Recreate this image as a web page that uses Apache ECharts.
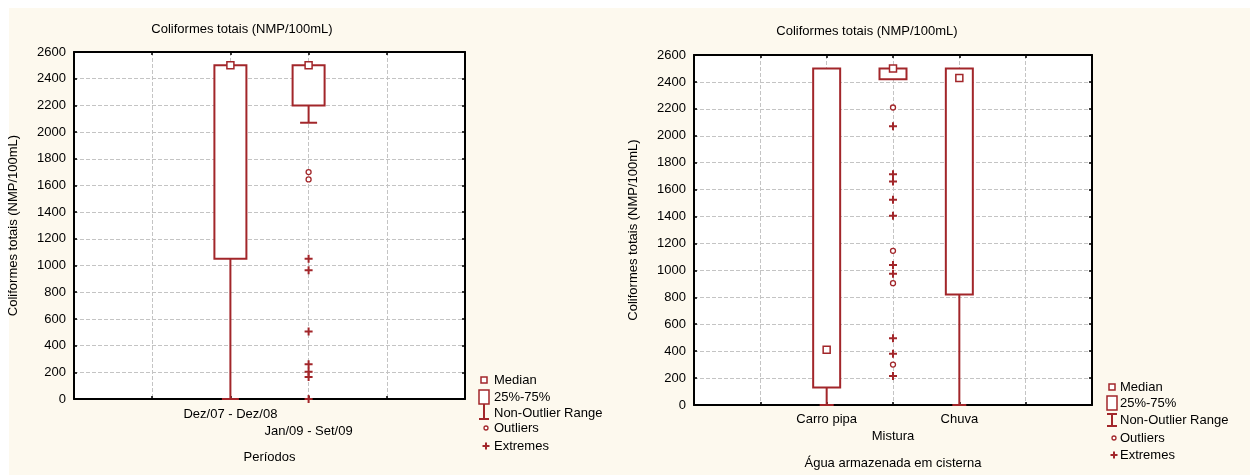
<!DOCTYPE html>
<html>
<head>
<meta charset="utf-8">
<script src="https://cdn.jsdelivr.net/npm/echarts@6/dist/echarts.min.js"></script>
<style>
  html, body { margin: 0; padding: 0; background: #ffffff; }
  #chart { width: 1250px; height: 475px; }
</style>
</head>
<body>
<div id="chart"></div>
<script>
// ---- Coliformes totais por período ----
const periodLabels = ['Dez/07 - Dez/08', 'Jan/09 - Set/09'];
const periodSlots = [2, 3];
const periodLow = [0, 2070];
const periodQ1 = [1050, 2200];
const periodMedian = [2500, 2500];
const periodQ3 = [2500, 2500];
const periodHigh = [2500, 2500];
const periodOutliers = [[3, 1700], [3, 1645]];
const periodExtremes = [[3, 1050], [3, 965], [3, 505], [3, 260], [3, 205], [3, 165], [3, 0]];

// ---- Coliformes totais por origem da água armazenada ----
const sourceLabels = ['Carro pipa', 'Mistura', 'Chuva'];
const sourceSlots = [2, 3, 4];
const sourceLow = [0, 2420, 0];
const sourceQ1 = [130, 2420, 820];
const sourceMedian = [410, 2500, 2430];
const sourceQ3 = [2500, 2500, 2500];
const sourceHigh = [2500, 2500, 2500];
const sourceOutliers = [[3, 2210], [3, 1145], [3, 905], [3, 300]];
const sourceExtremes = [[3, 2070], [3, 1715], [3, 1660], [3, 1525], [3, 1405], [3, 1040], [3, 975], [3, 495], [3, 380], [3, 215]];

// ---- axis settings and texts ----
const yMin = 0, yMax = 2600, yStep = 200;
const chartTitle = 'Coliformes totais (NMP/100mL)';
const yName = 'Coliformes totais (NMP/100mL)';
const periodAxisName = 'Períodos';
const sourceAxisName = 'Água armazenada em cisterna';
const legendLabels = ['Median', '25%-75%', 'Non-Outlier Range', 'Outliers', 'Extremes'];

const RED = '#a2262a';
const FONT = '"Liberation Sans", Arial, sans-serif';
const GRIDLINE = { show: true, lineStyle: { color: '#c4c4c4', type: [4, 2], width: 1 } };
const FRAME = { show: true, onZero: false, lineStyle: { color: '#000', width: 2 } };
const TICK = { show: true, inside: true, length: 3, lineStyle: { color: '#000', width: 1.5 } };

function boxData(slots, q1, q3) {
  return slots.map((s, i) => [s, q1[i], q3[i]]);
}
function whiskerData(slots, low, q1, q3, high) {
  return slots.map((s, i) => [s, low[i], q1[i], q3[i], high[i]]);
}
function medianData(slots, med) {
  return slots.map((s, i) => [s, med[i]]);
}

function boxRenderer(width) {
  return function (params, api) {
    const x = api.value(0);
    const lo = api.coord([x, api.value(1)]);
    const hi = api.coord([x, api.value(2)]);
    return {
      type: 'rect',
      shape: { x: lo[0] - width / 2, y: hi[1], width: width, height: lo[1] - hi[1] },
      style: { fill: '#ffffff', stroke: RED, lineWidth: 2 }
    };
  };
}

function whiskerRenderer(capWidth) {
  return function (params, api) {
    const x = api.value(0);
    const pLow = api.coord([x, api.value(1)]);
    const pQ1 = api.coord([x, api.value(2)]);
    const pQ3 = api.coord([x, api.value(3)]);
    const pHigh = api.coord([x, api.value(4)]);
    const children = [];
    const st = { stroke: RED, lineWidth: 2 };
    if (pLow[1] - pQ1[1] > 0.5) {
      children.push({ type: 'line', shape: { x1: pLow[0], y1: pLow[1], x2: pQ1[0], y2: pQ1[1] }, style: st });
      children.push({ type: 'line', shape: { x1: pLow[0] - capWidth / 2, y1: pLow[1], x2: pLow[0] + capWidth / 2, y2: pLow[1] }, style: st });
    }
    if (pQ3[1] - pHigh[1] > 0.5) {
      children.push({ type: 'line', shape: { x1: pQ3[0], y1: pQ3[1], x2: pHigh[0], y2: pHigh[1] }, style: st });
      children.push({ type: 'line', shape: { x1: pHigh[0] - capWidth / 2, y1: pHigh[1], x2: pHigh[0] + capWidth / 2, y2: pHigh[1] }, style: st });
    }
    return { type: 'group', children: children };
  };
}

const PLUS = 'path://M3,0H5V3H8V5H5V8H3V5H0V3H3Z';

function xAxes(gridIndex, max, labels, slots, margin, name) {
  return [
    {
      type: 'value', gridIndex: gridIndex, min: 0, max: max, interval: 1,
      axisLine: FRAME, axisTick: TICK,
      axisLabel: {
        margin: margin, color: '#000', fontFamily: FONT, fontSize: 13, lineHeight: 17,
        formatter: function (v) {
          const k = slots.indexOf(v);
          if (k < 0) return '';
          return (k % 2 === 1 ? '\n' : '') + labels[k];
        }
      },
      splitLine: GRIDLINE,
      name: name, nameLocation: 'middle', nameGap: 52,
      nameTextStyle: { color: '#000', fontFamily: FONT, fontSize: 13 }
    },
    {
      type: 'value', gridIndex: gridIndex, position: 'top', min: 0, max: max, interval: 1,
      axisLine: FRAME, axisTick: TICK,
      axisLabel: { show: false }, splitLine: { show: false }
    }
  ];
}

function yAxes(gridIndex) {
  return [
    {
      type: 'value', gridIndex: gridIndex, min: yMin, max: yMax, interval: yStep,
      axisLine: FRAME, axisTick: TICK,
      axisLabel: { margin: 8, color: '#000', fontFamily: FONT, fontSize: 13, formatter: v => String(v) },
      splitLine: GRIDLINE,
      name: yName, nameLocation: 'middle', nameGap: 54, nameRotate: 90,
      nameTextStyle: { color: '#000', fontFamily: FONT, fontSize: 13 }
    },
    {
      type: 'value', gridIndex: gridIndex, position: 'right', min: yMin, max: yMax, interval: yStep,
      axisLine: FRAME, axisTick: TICK,
      axisLabel: { show: false }, splitLine: { show: false }
    }
  ];
}

function seriesFor(xi, yi, boxW, capW, slots, low, q1, med, q3, high, outl, extr) {
  return [
    { type: 'custom', name: legendLabels[2], xAxisIndex: xi, yAxisIndex: yi, z: 3,
      renderItem: whiskerRenderer(capW), data: whiskerData(slots, low, q1, q3, high) },
    { type: 'custom', name: legendLabels[1], xAxisIndex: xi, yAxisIndex: yi, z: 4,
      renderItem: boxRenderer(boxW), data: boxData(slots, q1, q3) },
    { type: 'scatter', name: legendLabels[0], xAxisIndex: xi, yAxisIndex: yi, z: 5,
      symbol: 'rect', symbolSize: 7,
      itemStyle: { color: '#ffffff', borderColor: RED, borderWidth: 1.5, opacity: 1 },
      data: medianData(slots, med) },
    { type: 'scatter', name: legendLabels[3], xAxisIndex: xi, yAxisIndex: yi, z: 5,
      symbol: 'circle', symbolSize: 5, clip: false,
      itemStyle: { color: '#ffffff', borderColor: RED, borderWidth: 1.3, opacity: 1 },
      data: outl },
    { type: 'scatter', name: legendLabels[4], xAxisIndex: xi, yAxisIndex: yi, z: 5,
      symbol: PLUS, symbolSize: 8, clip: false,
      itemStyle: { color: RED, opacity: 1 },
      data: extr }
  ];
}

// Legend key: median square, box, whisker, outlier ring, extreme cross
function legendKey(iconX, textX, rows, joined) {
  const children = [];
  const txt = (y, s) => ({ type: 'text', x: textX, y: y,
    style: { text: s, fill: '#000', font: '13px ' + FONT, verticalAlign: 'middle', textVerticalAlign: 'middle' } });
  children.push({ type: 'rect', shape: { x: iconX - 3, y: rows[0] - 3, width: 6, height: 6 },
    style: { fill: '#fff', stroke: RED, lineWidth: 1.5 } });
  const bTop = rows[1] - 7, bBot = rows[1] + 7;
  children.push({ type: 'rect', shape: { x: iconX - 5, y: bTop, width: 10, height: bBot - bTop },
    style: { fill: '#fff', stroke: RED, lineWidth: 1.5 } });
  const wTop = joined ? bBot : rows[2] - 6, wBot = rows[2] + 6;
  children.push({ type: 'line', shape: { x1: iconX, y1: wTop, x2: iconX, y2: wBot }, style: { stroke: RED, lineWidth: 2 } });
  children.push({ type: 'line', shape: { x1: iconX - 5, y1: wBot, x2: iconX + 5, y2: wBot }, style: { stroke: RED, lineWidth: 2 } });
  if (!joined) children.push({ type: 'line', shape: { x1: iconX - 5, y1: wTop, x2: iconX + 5, y2: wTop }, style: { stroke: RED, lineWidth: 2 } });
  children.push({ type: 'circle', shape: { cx: iconX + 2, cy: rows[3], r: 2 }, style: { fill: '#fff', stroke: RED, lineWidth: 1.3 } });
  const cx = iconX + 2, cy = rows[4];
  children.push({ type: 'polygon', shape: { points: [
      [cx - 1, cy - 3.5], [cx + 1, cy - 3.5], [cx + 1, cy - 1], [cx + 3.5, cy - 1], [cx + 3.5, cy + 1], [cx + 1, cy + 1],
      [cx + 1, cy + 3.5], [cx - 1, cy + 3.5], [cx - 1, cy + 1], [cx - 3.5, cy + 1], [cx - 3.5, cy - 1], [cx - 1, cy - 1]] },
    style: { fill: RED } });
  legendLabels.forEach((s, i) => children.push(txt(rows[i], s)));
  return { type: 'group', children: children };
}

const chart = echarts.init(document.getElementById('chart'), null, { renderer: 'canvas' });
chart.setOption({
  backgroundColor: '#ffffff',
  animation: false,
  title: [
    { text: chartTitle, left: 237, top: 18, textAlign: 'center',
      textStyle: { color: '#000', fontFamily: FONT, fontSize: 13, fontWeight: 'normal' } },
    { text: chartTitle, left: 862, top: 20, textAlign: 'center',
      textStyle: { color: '#000', fontFamily: FONT, fontSize: 13, fontWeight: 'normal' } }
  ],
  grid: [
    { left: 74, top: 52, width: 391, height: 347, show: true, backgroundColor: '#ffffff', borderColor: '#000', borderWidth: 0 },
    { left: 694, top: 55, width: 398, height: 354, show: true, backgroundColor: '#ffffff', borderColor: '#000', borderWidth: 0 }
  ],
  xAxis: [].concat(
    xAxes(0, 5, periodLabels, periodSlots, 7, periodAxisName),
    xAxes(1, 6, sourceLabels, sourceSlots, 6, sourceAxisName)
  ),
  yAxis: [].concat(yAxes(0), yAxes(1)),
  graphic: [
    { type: 'rect', z: -10, silent: true, shape: { x: 9, y: 8, width: 1241, height: 467 }, style: { fill: '#fdf9ee' } },
    legendKey(484, 494, [380, 397, 413, 428, 446], true),
    legendKey(1112, 1120, [387, 403, 420, 438, 455], false)
  ],
  series: [].concat(
    seriesFor(0, 0, 32, 17, periodSlots, periodLow, periodQ1, periodMedian, periodQ3, periodHigh, periodOutliers, periodExtremes),
    seriesFor(2, 2, 27, 14, sourceSlots, sourceLow, sourceQ1, sourceMedian, sourceQ3, sourceHigh, sourceOutliers, sourceExtremes)
  )
});
</script>
</body>
</html>
